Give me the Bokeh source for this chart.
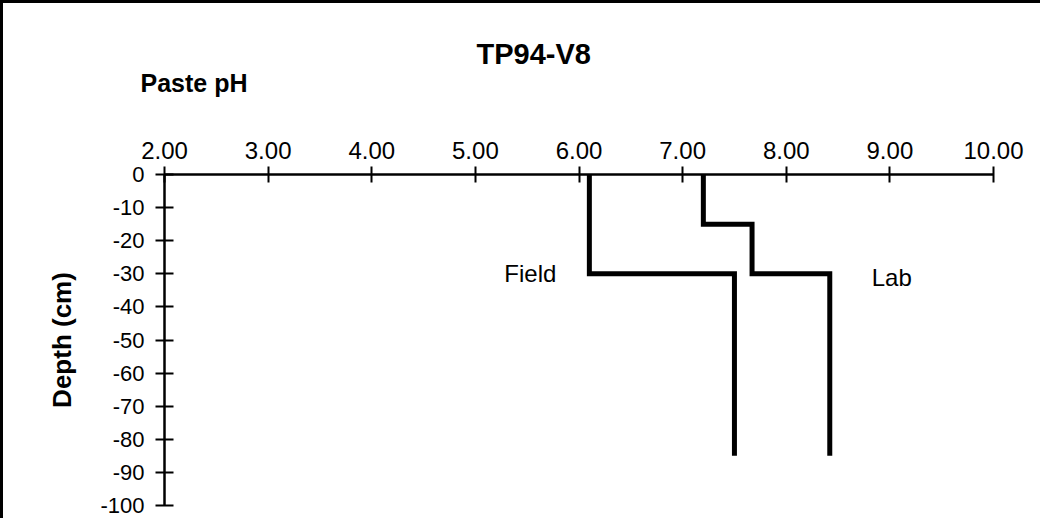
from bokeh.plotting import figure
from bokeh.models import Range1d, FixedTicker, NumeralTickFormatter, Label, Title
from bokeh.embed import file_html
from bokeh.resources import INLINE

# ---- data ----
x_ticks = [2, 3, 4, 5, 6, 7, 8, 9, 10]
y_ticks = [0, -10, -20, -30, -40, -50, -60, -70, -80, -90, -100]

field_depths = [0, -30, -85]        # layer boundaries (cm)
field_ph = [6.1, 7.5]               # pH of each layer

lab_depths = [0, -15, -30, -85]
lab_ph = [7.2, 7.67, 8.42]

title_text = "TP94-V8"
x_label_text = "Paste pH"
y_label_text = "Depth (cm)"


def step_path(depths, ph):
    xs, ys = [], []
    for i, v in enumerate(ph):
        xs += [v, v]
        ys += [depths[i], depths[i + 1]]
    return xs, ys


FONT = "Liberation Sans"

p = figure(width=1040, height=518, output_backend="svg", toolbar_location=None,
           x_axis_location="above", title=None,
           x_range=Range1d(x_ticks[0], x_ticks[-1]),
           y_range=Range1d(y_ticks[-1], y_ticks[0]),
           min_border_left=161, min_border_right=50, min_border_top=171,
           min_border_bottom=16,
           styles={"border-top": "3px solid black", "border-left": "3px solid black"})

p.outline_line_color = None
p.xgrid.visible = False
p.ygrid.visible = False
p.background_fill_color = "white"
p.border_fill_color = "white"

for ax in (p.xaxis[0], p.yaxis[0]):
    ax.axis_line_color = "black"
    ax.axis_line_width = 2.5
    ax.major_tick_line_color = "black"
    ax.major_tick_line_width = 2
    ax.minor_tick_line_color = None
    ax.major_label_text_font = FONT
    ax.major_label_text_color = "black"

xa = p.xaxis[0]
xa.ticker = FixedTicker(ticks=x_ticks)
xa.formatter = NumeralTickFormatter(format="0.00")
xa.major_tick_in = 8
xa.major_tick_out = 8
xa.major_label_standoff = 8
xa.major_label_text_font_size = "24px"
# blank axis label used only as vertical spacing above the tick labels
xa.axis_label = " "
xa.axis_label_text_font_size = "1px"
xa.axis_label_standoff = 40

ya = p.yaxis[0]
ya.ticker = FixedTicker(ticks=y_ticks)
ya.formatter = NumeralTickFormatter(format="0")
ya.major_tick_in = 9
ya.major_tick_out = 9
ya.major_label_standoff = 11
ya.major_label_text_font_size = "22px"
ya.axis_label = y_label_text
ya.axis_label_text_font = FONT
ya.axis_label_text_font_size = "26px"
ya.axis_label_text_font_style = "bold"
ya.axis_label_text_color = "black"
ya.axis_label_standoff = 20

t_paste = Title(text=x_label_text, align="left", offset=-24, standoff=-5,
                text_font=FONT, text_font_size="25px", text_font_style="bold",
                text_color="black")
t_main = Title(text=title_text, align="left", offset=312, standoff=0,
               text_font=FONT, text_font_size="29px", text_font_style="bold",
               text_color="black")
p.add_layout(t_paste, "above")
p.add_layout(t_main, "above")

fx, fy = step_path(field_depths, field_ph)
lx, ly = step_path(lab_depths, lab_ph)
p.line(fx, fy, line_color="black", line_width=5, line_join="miter")
p.line(lx, ly, line_color="black", line_width=5, line_join="miter")

p.add_layout(Label(x=field_ph[0], y=field_depths[1], text="Field", x_offset=-33,
                   text_align="right", text_baseline="alphabetic",
                   text_font=FONT, text_font_size="24px", text_color="black"))
p.add_layout(Label(x=lab_ph[-1], y=lab_depths[2], text="Lab", x_offset=42, y_offset=-4,
                   text_align="left", text_baseline="alphabetic",
                   text_font=FONT, text_font_size="24px", text_color="black"))

open("out.html", "w").write(file_html(p, INLINE))
